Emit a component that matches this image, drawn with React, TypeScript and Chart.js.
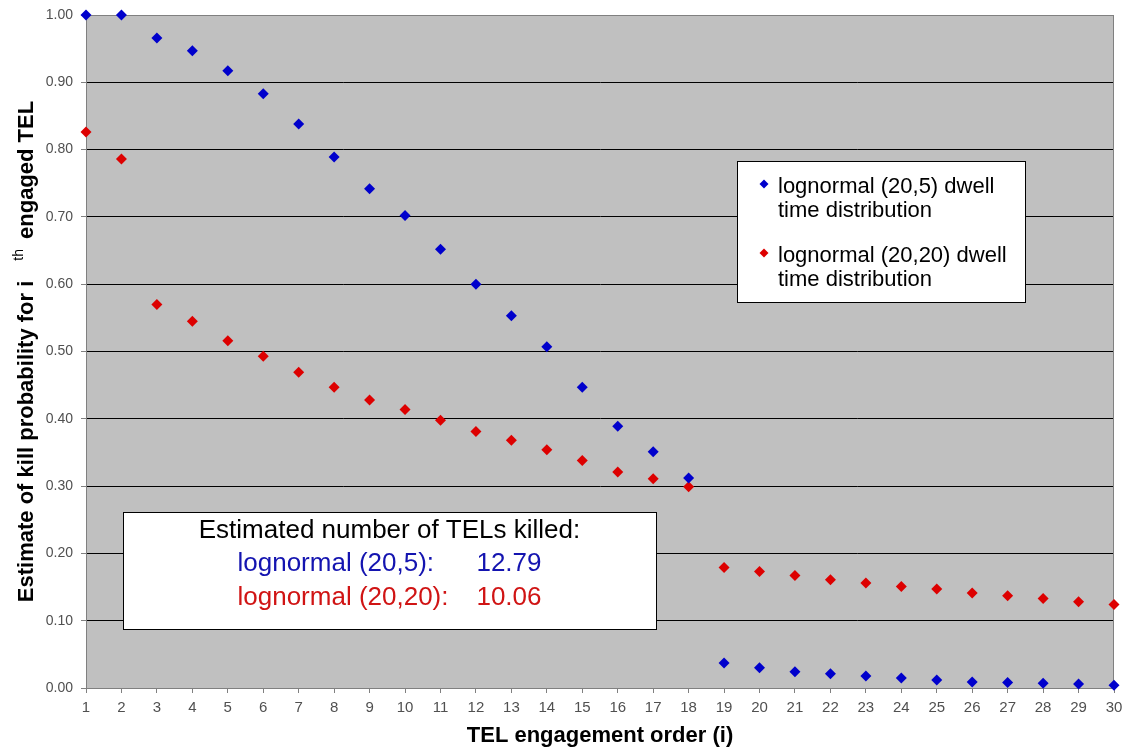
import { useEffect, useRef } from "react"
import { Chart, registerables } from "chart.js"

Chart.register(...registerables)

// TEL engagement order (i)
const engagementOrder = [
  1, 2, 3, 4, 5, 6, 7, 8, 9, 10, 11, 12, 13, 14, 15, 16, 17, 18, 19, 20, 21, 22, 23, 24, 25, 26, 27, 28, 29, 30,
]

// lognormal (20,5) dwell time distribution
const killProb20_5 = [
  1.0, 1.0, 0.966, 0.947, 0.917, 0.883, 0.838, 0.789, 0.742, 0.702, 0.652, 0.6, 0.553, 0.507, 0.447, 0.389,
  0.351, 0.312, 0.037, 0.03, 0.024, 0.021, 0.018, 0.015, 0.012, 0.009, 0.008, 0.007, 0.006, 0.004,
]

// lognormal (20,20) dwell time distribution
const killProb20_20 = [
  0.826, 0.786, 0.57, 0.545, 0.516, 0.493, 0.469, 0.447, 0.428, 0.414, 0.398, 0.381, 0.368, 0.354, 0.338,
  0.321, 0.311, 0.299, 0.179, 0.173, 0.167, 0.161, 0.156, 0.151, 0.147, 0.141, 0.137, 0.133, 0.128, 0.124,
]

const seriesLabels = ["lognormal (20,5) dwell time distribution", "lognormal (20,20) dwell time distribution"]
const killedTotals = ["12.79", "10.06"]

const BLUE = "#0000cc"
const RED = "#dd0000"
const FONT = "'Liberation Sans', Arial, sans-serif"

function diamond(ctx: CanvasRenderingContext2D, x: number, y: number, r: number, color: string) {
  ctx.beginPath()
  ctx.moveTo(x, y - r)
  ctx.lineTo(x + r, y)
  ctx.lineTo(x, y + r)
  ctx.lineTo(x - r, y)
  ctx.closePath()
  ctx.fillStyle = color
  ctx.fill()
}

const decorPlugin = {
  id: "decor",
  beforeDraw(chart: Chart) {
    const { ctx, chartArea: a } = chart
    ctx.save()
    ctx.fillStyle = "#ffffff"
    ctx.fillRect(0, 0, chart.width, chart.height)
    ctx.fillStyle = "#c0c0c0"
    ctx.fillRect(a.left, a.top, a.right - a.left, a.bottom - a.top)
    ctx.restore()
  },
  beforeDatasetsDraw(chart: Chart) {
    const { ctx, chartArea: a } = chart
    ctx.save()
    ctx.strokeStyle = "#808080"
    ctx.lineWidth = 1
    ctx.strokeRect(a.left + 0.5, a.top + 0.5, a.right - a.left - 1, a.bottom - a.top)
    ctx.restore()
  },
  afterDraw(chart: Chart) {
    const { ctx, chartArea: a } = chart
    ctx.save()

    // x axis title
    ctx.fillStyle = "#000"
    ctx.font = `bold 22px ${FONT}`
    ctx.textAlign = "center"
    ctx.textBaseline = "alphabetic"
    ctx.fillText("TEL engagement order (i)", (a.left + a.right) / 2, 742)

    // y axis title with superscript
    const part1 = "Estimate of kill probability for i"
    const sup = "th"
    const part2 = "engaged TEL"
    ctx.font = `bold 22px ${FONT}`
    const w1 = ctx.measureText(part1).width
    const w2 = ctx.measureText(part2).width
    ctx.font = `14px ${FONT}`
    const ws = ctx.measureText(sup).width
    const gap1 = 20
    const gap2 = 10
    const total = w1 + gap1 + ws + gap2 + w2
    ctx.save()
    ctx.translate(33, (a.top + a.bottom) / 2)
    ctx.rotate(-Math.PI / 2)
    ctx.textAlign = "left"
    let x0 = -total / 2
    ctx.font = `bold 22px ${FONT}`
    ctx.fillText(part1, x0, 0)
    x0 += w1 + gap1
    ctx.font = `14px ${FONT}`
    ctx.fillText(sup, x0, -10)
    x0 += ws + gap2
    ctx.font = `bold 22px ${FONT}`
    ctx.fillText(part2, x0, 0)
    ctx.restore()

    // legend box
    const lx = a.right - 377
    const ly = a.top + 146
    ctx.fillStyle = "#fff"
    ctx.fillRect(lx, ly, 288, 141)
    ctx.strokeStyle = "#000"
    ctx.lineWidth = 1
    ctx.strokeRect(lx + 0.5, ly + 0.5, 288, 141)
    const colors = [BLUE, RED]
    ctx.font = `22px ${FONT}`
    ctx.textAlign = "left"
    seriesLabels.forEach((lab, i) => {
      const oy = ly + i * 69
      diamond(ctx, lx + 27, oy + 23, 4.5, colors[i])
      const words = lab.split(" ")
      ctx.fillStyle = "#000"
      ctx.fillText(words.slice(0, 3).join(" "), lx + 41, oy + 32)
      ctx.fillText(words.slice(3).join(" "), lx + 41, oy + 56)
    })

    // annotation box
    const bx = a.left + 37
    const by = a.top + 497
    const bw = 533
    const bh = 117
    ctx.fillStyle = "#fff"
    ctx.fillRect(bx, by, bw, bh)
    ctx.strokeStyle = "#000"
    ctx.strokeRect(bx + 0.5, by + 0.5, bw, bh)
    const cx = bx + bw / 2
    ctx.font = `26px ${FONT}`
    ctx.fillStyle = "#000"
    ctx.textAlign = "center"
    ctx.fillText("Estimated number of TELs killed:", cx, by + 26)
    const rows = [
      { label: "lognormal (20,5):", value: killedTotals[0], color: "#1414b0" },
      { label: "lognormal (20,20):", value: killedTotals[1], color: "#d01414" },
    ]
    rows.forEach((r, i) => {
      const yy = by + 59 + i * 33.5
      ctx.fillStyle = r.color
      ctx.textAlign = "left"
      ctx.fillText(r.label, cx - 152, yy)
      ctx.textAlign = "right"
      ctx.fillText(r.value, cx + 152, yy)
    })

    ctx.restore()
  },
}

export default function App() {
  const chartRef = useRef<HTMLCanvasElement>(null)
  const chartInstance = useRef<Chart | null>(null)

  useEffect(() => {
    if (!chartRef.current) return
    if (chartInstance.current) chartInstance.current.destroy()

    const ctx = chartRef.current.getContext("2d")
    if (!ctx) return

    chartInstance.current = new Chart(ctx, {
      type: "scatter",
      data: {
        datasets: [
          {
            label: seriesLabels[0],
            data: engagementOrder.map((x, i) => ({ x, y: killProb20_5[i] })),
            backgroundColor: BLUE,
            borderColor: BLUE,
            pointStyle: "rectRot",
            pointRadius: 5.5,
            borderWidth: 0,
            clip: false,
          },
          {
            label: seriesLabels[1],
            data: engagementOrder.map((x, i) => ({ x, y: killProb20_20[i] })),
            backgroundColor: RED,
            borderColor: RED,
            pointStyle: "rectRot",
            pointRadius: 5.5,
            borderWidth: 0,
            clip: false,
          },
        ],
      },
      options: {
        responsive: true,
        maintainAspectRatio: false,
        animation: false,
        layout: { padding: { left: 0, right: 0, top: 15, bottom: 0 } },
        plugins: {
          legend: { display: false },
          tooltip: { enabled: false },
        },
        scales: {
          x: {
            type: "linear",
            min: 1,
            max: 30,
            afterFit: (scale: any) => {
              scale.height = 65
              scale.paddingLeft = 0
              scale.paddingRight = 9
            },
            ticks: {
              stepSize: 1,
              autoSkip: false,
              maxRotation: 0,
              padding: 6,
              color: "#505050",
              font: { family: FONT, size: 15 },
            },
            grid: { drawOnChartArea: false, tickLength: 5, color: "#808080" },
            border: { color: "#808080" },
          },
          y: {
            min: 0,
            max: 1,
            afterFit: (scale: any) => {
              scale.width = 86
              scale.paddingTop = 0
              scale.paddingBottom = 0
            },
            ticks: {
              stepSize: 0.1,
              padding: 8,
              color: "#505050",
              font: { family: FONT, size: 14 },
              callback: (v: any) => Number(v).toFixed(2),
            },
            grid: {
              tickLength: 5,
              color: (c: any) => (c.tick && (c.tick.value <= 0.001 || c.tick.value >= 0.999) ? "#808080" : "#000000"),
              tickColor: "#808080",
            },
            border: { color: "#808080" },
          },
        },
      },
      plugins: [decorPlugin],
    })

    return () => {
      if (chartInstance.current) {
        chartInstance.current.destroy()
        chartInstance.current = null
      }
    }
  }, [])

  return (
    <div style={{ position: "fixed", left: 0, top: 0, width: 1123, height: 753, background: "#fff" }}>
      <canvas ref={chartRef} />
    </div>
  )
}
